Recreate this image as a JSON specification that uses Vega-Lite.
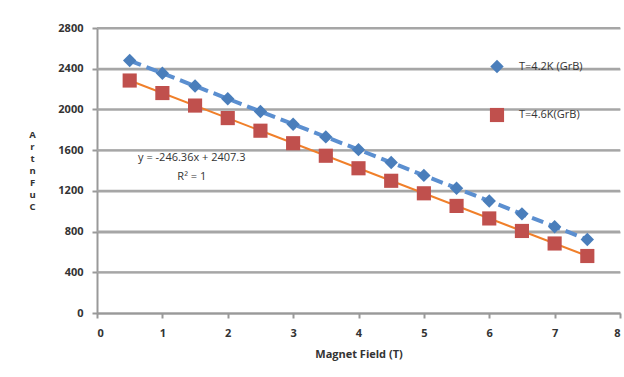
{
  "$schema": "https://vega.github.io/schema/vega-lite/v6.json",
  "autosize": "none",
  "width": 523,
  "height": 285,
  "padding": {"left": 97, "top": 28, "right": 4, "bottom": 64},
  "background": "white",
  "config": {
    "view": {"stroke": null},
    "font": "Open Sans",
    "axis": {
      "labelFont": "Open Sans",
      "labelFontWeight": "bold",
      "labelFontSize": 11,
      "labelColor": "#333333",
      "titleFont": "Open Sans",
      "titleFontWeight": "bold",
      "titleFontSize": 11,
      "titleColor": "#333333",
      "domainColor": "#999999",
      "domainWidth": 2,
      "tickColor": "#999999",
      "tickWidth": 2,
      "tickSize": 5
    },
    "axisY": {"grid": true, "gridColor": "#a6a6a6", "gridWidth": 2},
    "axisX": {"grid": false}
  },
  "datasets": {
    "pts": [
      {"B": 0.5, "A": 2480, "series": "T=4.2K (GrB)"},
      {"B": 1.0, "A": 2355, "series": "T=4.2K (GrB)"},
      {"B": 1.5, "A": 2230, "series": "T=4.2K (GrB)"},
      {"B": 2.0, "A": 2105, "series": "T=4.2K (GrB)"},
      {"B": 2.5, "A": 1980, "series": "T=4.2K (GrB)"},
      {"B": 3.0, "A": 1855, "series": "T=4.2K (GrB)"},
      {"B": 3.5, "A": 1730, "series": "T=4.2K (GrB)"},
      {"B": 4.0, "A": 1605, "series": "T=4.2K (GrB)"},
      {"B": 4.5, "A": 1478, "series": "T=4.2K (GrB)"},
      {"B": 5.0, "A": 1352, "series": "T=4.2K (GrB)"},
      {"B": 5.5, "A": 1226, "series": "T=4.2K (GrB)"},
      {"B": 6.0, "A": 1100, "series": "T=4.2K (GrB)"},
      {"B": 6.5, "A": 974, "series": "T=4.2K (GrB)"},
      {"B": 7.0, "A": 848, "series": "T=4.2K (GrB)"},
      {"B": 7.5, "A": 722, "series": "T=4.2K (GrB)"},
      {"B": 0.5, "A": 2284, "series": "T=4.6K(GrB)"},
      {"B": 1.0, "A": 2161, "series": "T=4.6K(GrB)"},
      {"B": 1.5, "A": 2038, "series": "T=4.6K(GrB)"},
      {"B": 2.0, "A": 1915, "series": "T=4.6K(GrB)"},
      {"B": 2.5, "A": 1791, "series": "T=4.6K(GrB)"},
      {"B": 3.0, "A": 1668, "series": "T=4.6K(GrB)"},
      {"B": 3.5, "A": 1545, "series": "T=4.6K(GrB)"},
      {"B": 4.0, "A": 1422, "series": "T=4.6K(GrB)"},
      {"B": 4.5, "A": 1299, "series": "T=4.6K(GrB)"},
      {"B": 5.0, "A": 1176, "series": "T=4.6K(GrB)"},
      {"B": 5.5, "A": 1052, "series": "T=4.6K(GrB)"},
      {"B": 6.0, "A": 929, "series": "T=4.6K(GrB)"},
      {"B": 6.5, "A": 806, "series": "T=4.6K(GrB)"},
      {"B": 7.0, "A": 683, "series": "T=4.6K(GrB)"},
      {"B": 7.5, "A": 560, "series": "T=4.6K(GrB)"}
    ],
    "gridlines": [
      {"A": 400}, {"A": 800}, {"A": 1200}, {"A": 1600}, {"A": 2000}, {"A": 2400}, {"A": 2800}
    ],
    "note": [
      {"B": 1.45, "A": 1525, "eq": "y = -246.36x + 2407.3", "r2": "R² = 1"}
    ]
  },
  "layer": [
    {
      "data": {"name": "gridlines"},
      "mark": {"type": "rule", "color": "#a6a6a6", "strokeWidth": 2},
      "encoding": {
        "y": {"field": "A", "type": "quantitative"}
      }
    },
    {
      "data": {"name": "pts"},
      "transform": [{"filter": "datum.series === 'T=4.2K (GrB)'"}],
      "mark": {"type": "line", "color": "#5B8FD0", "strokeWidth": 4, "strokeDash": [12, 6]},
      "encoding": {
        "x": {"field": "B", "type": "quantitative"},
        "y": {"field": "A", "type": "quantitative"}
      }
    },
    {
      "data": {"name": "pts"},
      "transform": [
        {"filter": "datum.series === 'T=4.6K(GrB)'"},
        {"regression": "A", "on": "B", "method": "linear", "extent": [0.5, 7.5]}
      ],
      "mark": {"type": "line", "color": "#F07F2A", "strokeWidth": 2},
      "encoding": {
        "x": {"field": "B", "type": "quantitative"},
        "y": {"field": "A", "type": "quantitative"}
      }
    },
    {
      "data": {"name": "pts"},
      "mark": {"type": "point", "filled": true, "opacity": 1},
      "encoding": {
        "x": {
          "field": "B", "type": "quantitative",
          "scale": {"domain": [0, 8], "nice": false},
          "axis": {"values": [0,1,2,3,4,5,6,7,8], "format": "d", "grid": false, "labelPadding": 9, "title": "Magnet Field (T)", "titlePadding": 10}
        },
        "y": {
          "field": "A", "type": "quantitative",
          "scale": {"domain": [0, 2800], "nice": false},
          "axis": {
            "values": [0,400,800,1200,1600,2000,2400,2800],
            "format": "d",
            "grid": true,
            "labelPadding": 9,
            "title": ["A", "r", "t", "n", "F", "u", "C"],
            "titleFontSize": 9.5,
            "titleAngle": 0,
            "titleAlign": "center",
            "titleBaseline": "top",
            "titleLineHeight": 12,
            "titleX": -65,
            "titleY": 101
          }
        },
        "color": {
          "field": "series", "type": "nominal",
          "scale": {"domain": ["T=4.2K (GrB)", "T=4.6K(GrB)"], "range": ["#4A7EBB", "#C0504D"]},
          "legend": {
            "title": null,
            "orient": "none",
            "legendX": 392,
            "legendY": 31,
            "rowPadding": 33,
            "labelFont": "Open Sans",
            "labelFontSize": 11,
            "labelColor": "#333333",
            "labelOffset": 14,
            "symbolSize": 170
          }
        },
        "shape": {
          "field": "series", "type": "nominal",
          "scale": {"domain": ["T=4.2K (GrB)", "T=4.6K(GrB)"], "range": ["diamond", "square"]},
          "legend": null
        },
        "size": {
          "field": "series", "type": "nominal",
          "scale": {"domain": ["T=4.2K (GrB)", "T=4.6K(GrB)"], "range": [180, 200]},
          "legend": null
        }
      }
    },
    {
      "data": {"name": "note"},
      "mark": {"type": "text", "font": "Open Sans", "fontSize": 11, "color": "#333333", "align": "center", "baseline": "middle"},
      "encoding": {
        "x": {"field": "B", "type": "quantitative"},
        "y": {"field": "A", "type": "quantitative"},
        "text": {"field": "eq", "type": "nominal"}
      }
    },
    {
      "data": {"name": "note"},
      "mark": {"type": "text", "font": "Open Sans", "fontSize": 11, "color": "#333333", "align": "center", "baseline": "middle", "dy": 19},
      "encoding": {
        "x": {"field": "B", "type": "quantitative"},
        "y": {"field": "A", "type": "quantitative"},
        "text": {"field": "r2", "type": "nominal"}
      }
    }
  ]
}
